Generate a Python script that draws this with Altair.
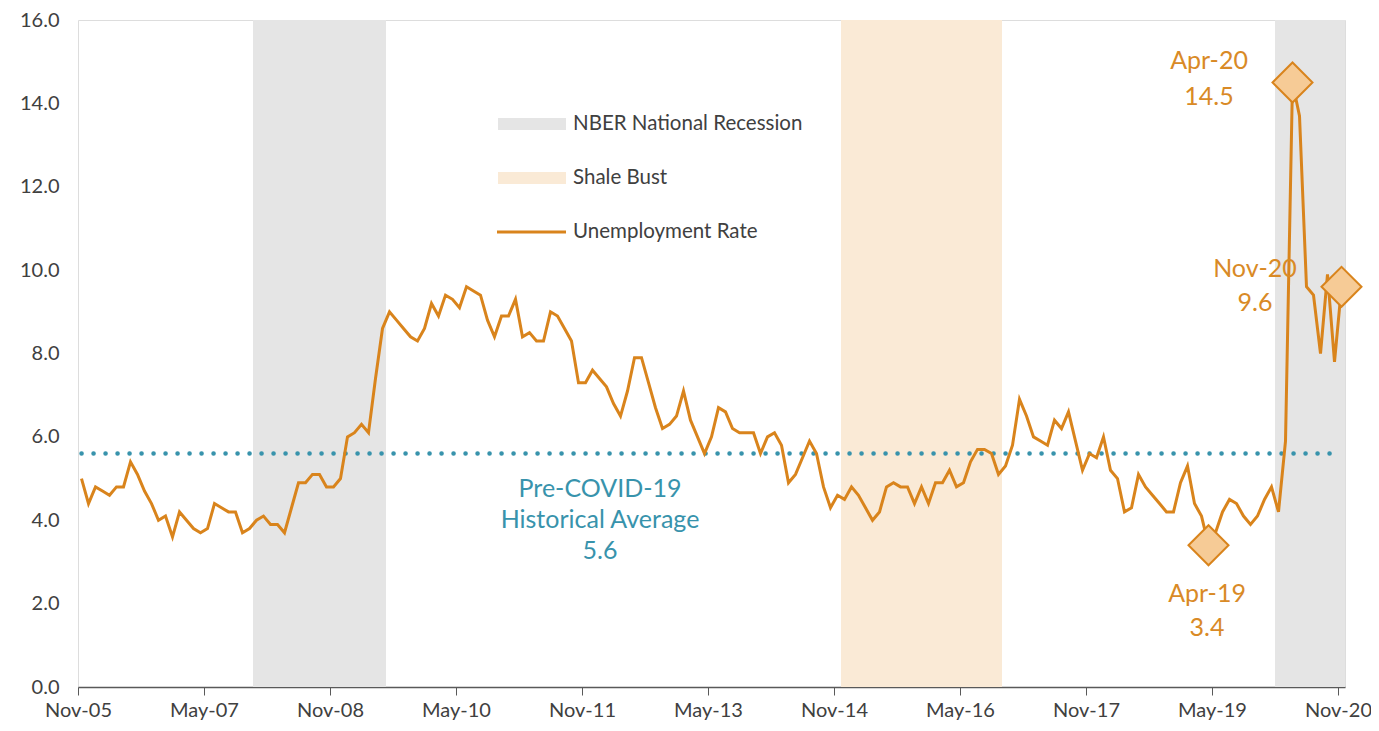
import altair as alt
import pandas as pd

# Monthly unemployment rate, Nov-05 .. Nov-20 (181 months)
rate = [5.0, 4.4, 4.8, 4.7, 4.6, 4.8, 4.8, 5.4, 5.1, 4.7,
        4.4, 4.0, 4.1, 3.6, 4.2, 4.0, 3.8, 3.7, 3.8, 4.4,
        4.3, 4.2, 4.2, 3.7, 3.8, 4.0, 4.1, 3.9, 3.9, 3.7,
        4.3, 4.9, 4.9, 5.1, 5.1, 4.8, 4.8, 5.0, 6.0, 6.1,
        6.3, 6.1, 7.4, 8.6, 9.0, 8.8, 8.6, 8.4, 8.3, 8.6,
        9.2, 8.9, 9.4, 9.3, 9.1, 9.6, 9.5, 9.4, 8.8, 8.4,
        8.9, 8.9, 9.3, 8.4, 8.5, 8.3, 8.3, 9.0, 8.9, 8.6,
        8.3, 7.3, 7.3, 7.6, 7.4, 7.2, 6.8, 6.5, 7.1, 7.9,
        7.9, 7.3, 6.7, 6.2, 6.3, 6.5, 7.1, 6.4, 6.0, 5.6,
        6.0, 6.7, 6.6, 6.2, 6.1, 6.1, 6.1, 5.6, 6.0, 6.1,
        5.8, 4.9, 5.1, 5.5, 5.9, 5.6, 4.8, 4.3, 4.6, 4.5,
        4.8, 4.6, 4.3, 4.0, 4.2, 4.8, 4.9, 4.8, 4.8, 4.4,
        4.8, 4.4, 4.9, 4.9, 5.2, 4.8, 4.9, 5.4, 5.7, 5.7,
        5.6, 5.1, 5.3, 5.8, 6.9, 6.5, 6.0, 5.9, 5.8, 6.4,
        6.2, 6.6, 5.9, 5.2, 5.6, 5.5, 6.0, 5.2, 5.0, 4.2,
        4.3, 5.1, 4.8, 4.6, 4.4, 4.2, 4.2, 4.9, 5.3, 4.4,
        4.1, 3.4, 3.7, 4.2, 4.5, 4.4, 4.1, 3.9, 4.1, 4.5,
        4.8, 4.2, 5.9, 14.5, 13.7, 9.6, 9.4, 8.0, 9.9, 7.8,
        9.6]
month_index = list(range(len(rate)))

tick_months = [0, 18, 36, 54, 72, 90, 108, 126, 144, 162, 180]
tick_labels = ["Nov-05", "May-07", "Nov-08", "May-10", "Nov-11", "May-13",
               "Nov-14", "May-16", "Nov-17", "May-19", "Nov-20"]

# Shaded periods (month index of start, month index after end)
band_names = ["NBER National Recession", "Shale Bust", "NBER National Recession"]
band_start = [25, 109, 171]
band_end = [44, 132, 181]

historical_avg = 5.6
avg_start = 0.5
avg_end = 179.5

highlight_months = [161, 173, 180]
highlight_names = ["Apr-19", "Apr-20", "Nov-20"]

ORANGE = "#D9841C"
ORANGE_TXT = "#D98A26"
PEACH = "#F6CB96"
TEAL = "#3893AC"
GREY_BAND = "#E5E5E5"
SHALE = "#FAEAD6"
TEXT = "#404040"
FONT = "Lato"

W, H = 1267, 667
TOP = 12
LEFT = 70

df = pd.DataFrame({"m": month_index, "rate": rate})
bands = pd.DataFrame({"name": band_names, "start": band_start, "end": band_end})
avg_df = pd.DataFrame({"start": [avg_start], "end": [avg_end], "avg": [historical_avg]})
hl = pd.DataFrame({"m": highlight_months, "name": highlight_names,
                   "rate": [rate[i] for i in highlight_months]})

label_js = "[" + ",".join("'" + t + "'" for t in tick_labels) + "]"

xscale = alt.Scale(domain=[0, 181], nice=False, zero=False)
yscale = alt.Scale(domain=[0, 16], nice=False)

xaxis = alt.Axis(values=tick_months, labelExpr=label_js + "[round(datum.value/18)]",
                 title=None, grid=False, domainColor="#595959", tickColor="#595959",
                 tickSize=8, labelFontSize=20, labelColor=TEXT, labelFont=FONT,
                 labelPadding=5, labelFlush=False, labelOverlap=False, domainWidth=1.3)
yaxis = alt.Axis(values=list(range(0, 17, 2)), format=".1f", title=None, grid=False,
                 domain=False, ticks=False, labelFontSize=20, labelColor=TEXT,
                 labelFont=FONT, labelPadding=19)

band_layer = alt.Chart(bands).mark_rect().encode(
    x=alt.X("start:Q", scale=xscale, axis=xaxis),
    x2="end:Q",
    y=alt.value(0),
    y2=alt.value(H),
    color=alt.Color("name:N", scale=alt.Scale(domain=["NBER National Recession", "Shale Bust"],
                                               range=[GREY_BAND, SHALE]), legend=None),
)

avg_layer = alt.Chart(avg_df).mark_rule(
    color=TEAL, strokeWidth=4.5, strokeDash=[0.1, 11.9], strokeCap="round"
).encode(
    x=alt.X("start:Q", scale=xscale),
    x2="end:Q",
    y=alt.Y("avg:Q", scale=yscale, axis=yaxis),
)

line_layer = alt.Chart(df).transform_calculate(mid="datum.m + 0.5").mark_line(
    color=ORANGE, strokeWidth=3
).encode(
    x=alt.X("mid:Q", scale=xscale),
    y=alt.Y("rate:Q", scale=yscale),
)

pt_layer = alt.Chart(hl).transform_calculate(mid="datum.m + 0.5").mark_point(
    shape="diamond", size=1600, filled=True, fill=PEACH, stroke=ORANGE,
    strokeWidth=2, opacity=1
).encode(
    x=alt.X("mid:Q", scale=xscale),
    y=alt.Y("rate:Q", scale=yscale),
)

one = pd.DataFrame({"k": [0]})


def text_layer(lines, x, y, color, size, lh, align="center"):
    # x, y in page pixels -> plot-area pixels; y is the centre of the first line
    return alt.Chart(one).mark_text(
        text=lines, font=FONT, fontSize=size, color=color, align=align,
        baseline="middle", lineHeight=lh
    ).encode(x=alt.value(x - 8 - LEFT), y=alt.value(y - 8 - TOP))


ann = [
    text_layer(["Apr-20", "14.5"], 1209, 61, ORANGE_TXT, 25, 36),
    text_layer(["Nov-20", "9.6"], 1255, 269, ORANGE_TXT, 25, 34),
    text_layer(["Apr-19", "3.4"], 1207, 594, ORANGE_TXT, 25, 34),
    text_layer(["Pre-COVID-19", "Historical Average", "5.6"], 600, 489, TEAL, 25, 31),
]

leg_grey = alt.Chart(one).mark_rect(color=GREY_BAND).encode(
    x=alt.value(420), x2=alt.value(488), y=alt.value(118 - 8 - TOP), y2=alt.value(130 - 8 - TOP))
leg_shale = alt.Chart(one).mark_rect(color=SHALE).encode(
    x=alt.value(420), x2=alt.value(488), y=alt.value(172 - 8 - TOP), y2=alt.value(184 - 8 - TOP))
leg_line = alt.Chart(one).mark_rule(color=ORANGE, strokeWidth=3).encode(
    x=alt.value(419), x2=alt.value(488), y=alt.value(232 - 8 - TOP))
leg_text = [
    text_layer(["NBER National Recession"], 573, 124, TEXT, 20.5, 20, "left"),
    text_layer(["Shale Bust"], 573, 178, TEXT, 20.5, 20, "left"),
    text_layer(["Unemployment Rate"], 573, 232, TEXT, 20.5, 20, "left"),
]

chart = alt.layer(
    band_layer, avg_layer, line_layer, pt_layer, *ann,
    leg_grey, leg_shale, leg_line, *leg_text
).properties(
    width=W, height=H,
    autosize=alt.AutoSizeParams(type="none"),
    padding={"left": LEFT, "top": TOP, "right": 26, "bottom": 36},
).configure_view(stroke=None).configure(background="white")

chart.save("out.html", embed_options={"renderer": "svg", "actions": False})
